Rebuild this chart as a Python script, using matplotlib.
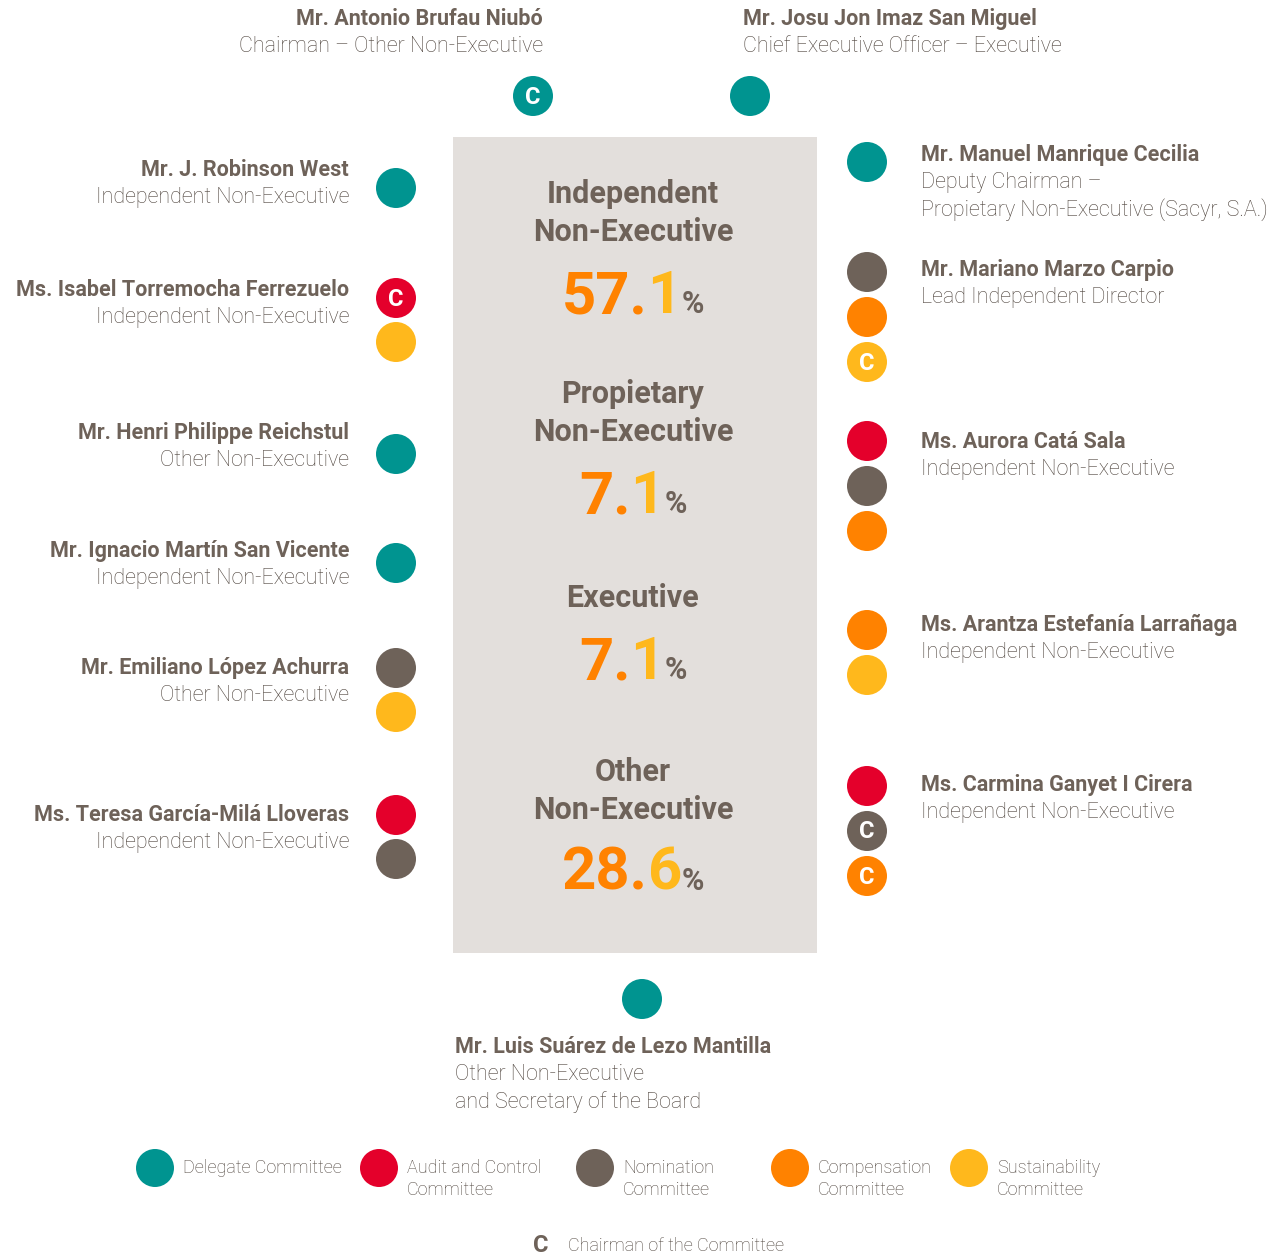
import matplotlib
matplotlib.use("Agg")
import matplotlib.pyplot as plt
from matplotlib.patches import Circle, Rectangle

# committee colours
TEAL = '#009490'
RED = '#E4002B'
GRAY = '#6E6259'
TXT = '#4E443D'   # darker tone so the thin role text reads like the reference
ORANGE = '#FF8200'
YELLOW = '#FFB81C'
PANEL = '#E3DFDC'
cmap = {'D': TEAL, 'A': RED, 'N': GRAY, 'R': ORANGE, 'S': YELLOW}

# ---- data ----
left_names = ['Mr. J. Robinson West', 'Ms. Isabel Torremocha Ferrezuelo',
              'Mr. Henri Philippe Reichstul', 'Mr. Ignacio Martín San Vicente',
              'Mr. Emiliano López Achurra', 'Ms. Teresa García-Milá Lloveras']
left_roles = ['Independent Non-Executive', 'Independent Non-Executive',
              'Other Non-Executive', 'Independent Non-Executive',
              'Other Non-Executive', 'Independent Non-Executive']
left_comm = [['D'], ['A', 'S'], ['D'], ['D'], ['N', 'S'], ['A', 'N']]
left_chair = [[0], [1, 0], [0], [0], [0, 0], [0, 0]]

right_names = ['Mr. Manuel Manrique Cecilia', 'Mr. Mariano Marzo Carpio',
               'Ms. Aurora Catá Sala', 'Ms. Arantza Estefanía Larrañaga',
               'Ms. Carmina Ganyet I Cirera']
right_roles = ['Deputy Chairman –\nPropietary Non-Executive (Sacyr, S.A.)',
               'Lead Independent Director', 'Independent Non-Executive',
               'Independent Non-Executive', 'Independent Non-Executive']
right_comm = [['D'], ['N', 'R', 'S'], ['A', 'N', 'R'], ['R', 'S'], ['A', 'N', 'R']]
right_chair = [[0], [0, 0, 1], [0, 0, 0], [0, 0], [0, 1, 1]]

top_names = ['Mr. Antonio Brufau Niubó', 'Mr. Josu Jon Imaz San Miguel']
top_roles = ['Chairman – Other Non-Executive', 'Chief Executive Officer – Executive']
top_comm = [['D'], ['D']]
top_chair = [[1], [0]]

bottom_name = 'Mr. Luis Suárez de Lezo Mantilla'
bottom_role = 'Other Non-Executive\nand Secretary of the Board'

categories = ['Independent\nNon-Executive', 'Propietary\nNon-Executive',
              'Executive', 'Other\nNon-Executive']
shares = ['57.1', '7.1', '7.1', '28.6']

legend_keys = ['D', 'A', 'N', 'R', 'S']
legend_labels = ['Delegate Committee', 'Audit and Control\nCommittee',
                 'Nomination\nCommittee', 'Compensation\nCommittee',
                 'Sustainability\nCommittee']

# ---- figure ----
plt.rcParams['font.family'] = ['Roboto', 'DejaVu Sans']
fig = plt.figure(figsize=(12.83, 12.56), dpi=100)
ax = fig.add_axes([0, 0, 1, 1])
ax.set_xlim(0, 1283)
ax.set_ylim(1256, 0)
ax.set_aspect('equal')
ax.axis('off')
R = 20


def dot(x, y, key, chair=0):
    ax.add_patch(Circle((x, y), R, color=cmap[key], lw=0))
    if chair:
        ax.text(x, y + 1, 'C', color='white', fontsize=17, fontweight='bold',
                ha='center', va='center')


def person(x, y, name, role, ha):
    ax.text(x, y, name, color=GRAY, fontsize=15.5, fontweight='bold', ha=ha, va='center')
    for k, line in enumerate(role.split('\n')):
        ax.text(x, y + 27.5 * (k + 1), line, color=TXT, fontsize=15.5,
                fontweight='light', ha=ha, va='center')


# panel
ax.add_patch(Rectangle((453, 137), 364, 816, color=PANEL, lw=0))

# top
person(543, 19, top_names[0], top_roles[0], 'right')
person(743, 19, top_names[1], top_roles[1], 'left')
dot(533, 96, top_comm[0][0], top_chair[0][0])
dot(750, 96, top_comm[1][0], top_chair[1][0])

# left column
left_y = [170, 290, 433, 551, 668, 815]
left_dot_y = [188, 298, 454, 563, 668, 815]
for i in range(len(left_names)):
    person(349, left_y[i], left_names[i], left_roles[i], 'right')
    for j, k in enumerate(left_comm[i]):
        dot(396, left_dot_y[i] + j * 44, k, left_chair[i][j])

# right column
right_y = [155, 270, 442, 625, 785]
right_dot_y = [162, 272, 441, 630, 786]
for i in range(len(right_names)):
    person(921, right_y[i], right_names[i], right_roles[i], 'left')
    for j, k in enumerate(right_comm[i]):
        dot(867, right_dot_y[i] + j * 45, k, right_chair[i][j])

# bottom
dot(642, 999, 'D')
person(455, 1047, bottom_name, bottom_role, 'left')

# panel texts
fig.canvas.draw()
rend = fig.canvas.get_renderer()
cat_y = [194, 394, 598, 772]
pct_y = [313, 513, 679, 890]
for c, s, cy, py in zip(categories, shares, cat_y, pct_y):
    for k, line in enumerate(c.split('\n')):
        ax.text(633, cy + 38 * k, line, color=GRAY, fontsize=22, fontweight='bold',
                ha='center', va='center')
    whole, dec = s.split('.')
    pieces = [(whole + '.', ORANGE, 43), (dec, YELLOW, 43), ('%', GRAY, 22)]
    objs = []
    for txt, col, fs in pieces:
        t = ax.text(0, py, txt, color=col, fontsize=fs, fontweight='bold',
                    ha='left', va='baseline')
        objs.append(t)
    widths = [o.get_window_extent(rend).width for o in objs]
    x0 = 633 - sum(widths) / 2
    for o, w in zip(objs, widths):
        o.set_position((x0, py))
        x0 += w

# legend
leg_x = [155, 379, 595, 790, 969]
for k, lab, x in zip(legend_keys, legend_labels, leg_x):
    ax.add_patch(Circle((x, 1168), R - 1, color=cmap[k], lw=0))
    for j, line in enumerate(lab.split('\n')):
        ax.text(x + 28, 1168 + 22 * j, line, color=TXT, fontsize=13,
                fontweight='light', ha='left', va='center')
ax.text(541, 1246, 'C', color=GRAY, fontsize=17, fontweight='bold', ha='center', va='center')
ax.text(568, 1246, 'Chairman of the Committee', color=TXT, fontsize=13,
        fontweight='light', ha='left', va='center')

fig.savefig('out.png', dpi=100)
